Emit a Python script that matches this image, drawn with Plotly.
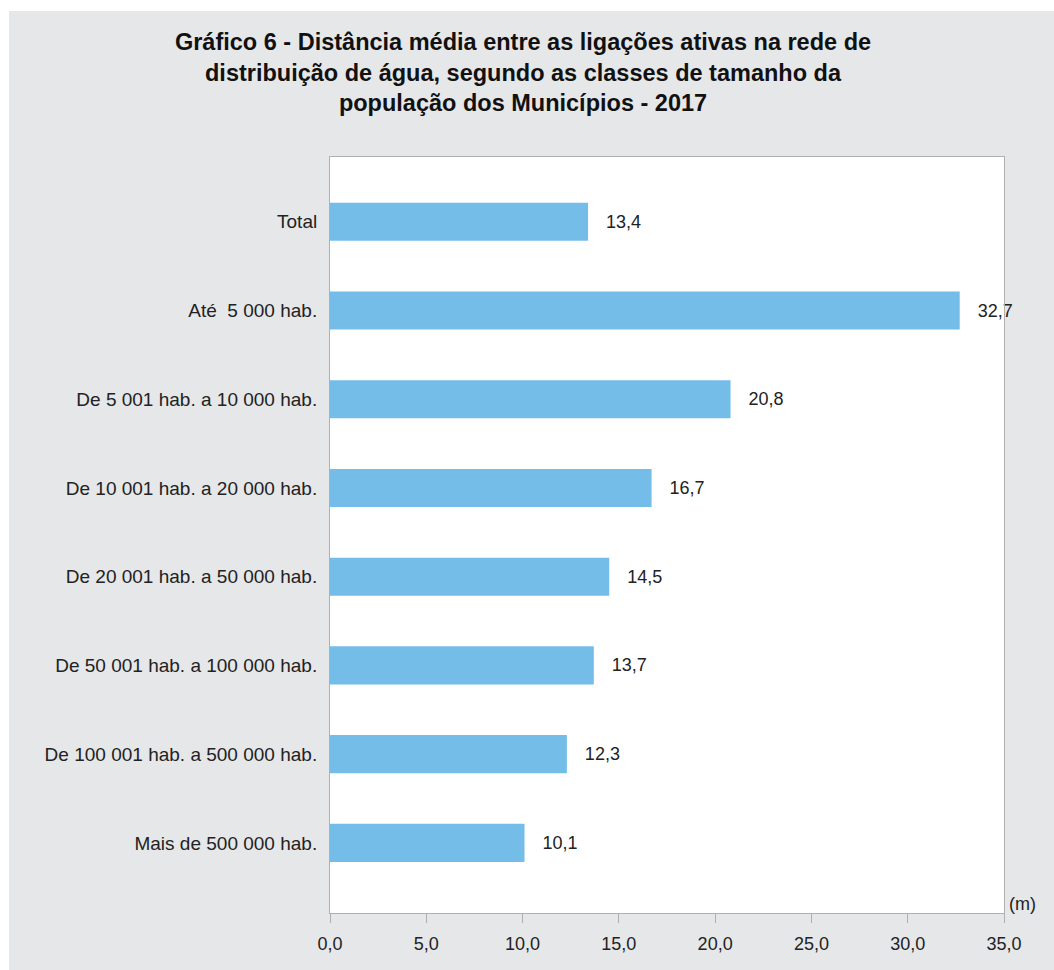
import plotly.graph_objects as go

categories = [
    "Total",
    "Até\u00a0 5 000 hab.",
    "De 5 001 hab. a 10 000 hab.",
    "De 10 001 hab. a 20 000 hab.",
    "De 20 001 hab. a 50 000 hab.",
    "De 50 001 hab. a 100 000 hab.",
    "De 100 001 hab. a 500 000 hab.",
    "Mais de 500 000 hab.",
]
values = [13.4, 32.7, 20.8, 16.7, 14.5, 13.7, 12.3, 10.1]
tick_values = [0, 5, 10, 15, 20, 25, 30, 35]
tick_labels = ["0,0", "5,0", "10,0", "15,0", "20,0", "25,0", "30,0", "35,0"]

title_text = ("<b>Gráfico 6 - Distância média entre as ligações ativas na rede de<br>"
              "distribuição de água, segundo as classes de tamanho da<br>"
              "população dos Municípios - 2017</b>")

FONT = "Liberation Sans, Arial, sans-serif"
W, H = 1054, 970
L, R, T, B = 330, 1004, 157, 913
pw, ph = R - L, B - T

def px_x(p):
    return (p - L) / pw

def px_y(p):
    return (B - p) / ph

fig = go.Figure()
fig.add_trace(go.Bar(
    y=categories,
    x=values,
    orientation="h",
    marker=dict(color="#74bde8", line=dict(width=0)),
    width=0.43,
    text=[f"{v:.1f}".replace(".", ",") for v in values],
    texttemplate="   %{text}",
    textposition="outside",
    cliponaxis=False,
    constraintext="none",
    textfont=dict(family=FONT, size=18, color="#222222"),
    hoverinfo="skip",
))

fig.update_layout(
    width=W, height=H,
    margin=dict(l=L, r=W - R, t=T, b=H - B, pad=0),
    paper_bgcolor="#e6e7e9",
    plot_bgcolor="#ffffff",
    showlegend=False,
    font=dict(family=FONT, size=18, color="#222222"),
    title=dict(
        text=title_text,
        x=523 / W, xanchor="center",
        y=1 - 50 / H, yanchor="middle",
        font=dict(family=FONT, size=23.5, color="#111111"),
    ),
    xaxis=dict(
        range=[0, 35],
        tickvals=tick_values,
        ticktext=tick_labels,
        ticks="outside", ticklen=9, tickcolor="#b0b0b0", tickwidth=1,
        showline=True, linecolor="#b0b0b0", linewidth=1, mirror=True,
        showgrid=False, zeroline=False,
        tickfont=dict(family=FONT, size=18, color="#222222"),
        ticklabelstandoff=5,
    ),
    yaxis=dict(
        categoryorder="array", categoryarray=categories,
        range=[7.79, -0.73],
        showline=True, linecolor="#b0b0b0", linewidth=1, mirror=True,
        showgrid=False, zeroline=False, ticks="",
        tickfont=dict(family=FONT, size=19, color="#222222"),
        ticklabelstandoff=8,
    ),
    shapes=[
        dict(type="rect", xref="paper", yref="paper", layer="below",
             x0=px_x(0), x1=px_x(9), y0=px_y(H + 5), y1=px_y(-5),
             fillcolor="#ffffff", line=dict(width=0)),
        dict(type="rect", xref="paper", yref="paper", layer="below",
             x0=px_x(0), x1=px_x(W + 5), y0=px_y(11), y1=px_y(-5),
             fillcolor="#ffffff", line=dict(width=0)),
    ],
    annotations=[
        dict(text="(m)", xref="paper", yref="paper",
             x=px_x(1007), y=px_y(904), xanchor="left", yanchor="middle",
             showarrow=False, font=dict(family=FONT, size=18, color="#222222")),
    ],
)

fig.write_html("out.html")
